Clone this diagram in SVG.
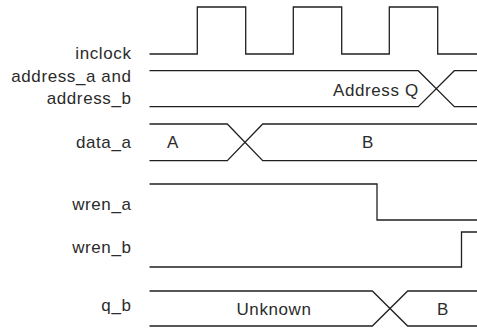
<svg xmlns="http://www.w3.org/2000/svg" width="477" height="328" viewBox="0 0 477 328">
<style>
.bg{fill:#ffffff}
.w{fill:none;stroke:#231f20;stroke-width:1.3;stroke-linejoin:miter}
.t{font-family:"Liberation Sans",Arial,sans-serif;font-size:17px;fill:#2b2b2b;letter-spacing:0.6px}
.l{text-anchor:end}
.m{text-anchor:middle}
</style>
<rect class="bg" x="0" y="0" width="477" height="328"/>
<g id="inclock">
<text class="t l" x="131.5" y="59">inclock</text>
<path class="w" d="M149.5,54 H197.3 V7 H245.7 V54 H293.3 V7 H341.7 V54 H389.3 V7 H437.7 V54 H477"/>
</g>
<g id="address">
<text class="t l" x="131.5" y="82">address_a and</text>
<text class="t l" x="131.5" y="103.5">address_b</text>
<path class="w" d="M149.5,70.7 H418.3 L454.3,106.7 H477 M149.5,106.7 H418.3 L454.3,70.7 H477"/>
<text class="t" x="333" y="95.5">Address Q</text>
</g>
<g id="data_a">
<text class="t l" x="131.5" y="147.5">data_a</text>
<path class="w" d="M149.5,124 H227.3 L262.7,160.7 H477 M149.5,160.7 H227.3 L262.7,124 H477"/>
<text class="t m" x="173" y="148">A</text>
<text class="t m" x="368" y="148">B</text>
</g>
<g id="wren_a">
<text class="t l" x="131.5" y="210">wren_a</text>
<path class="w" d="M149.5,184 H377 V220 H477"/>
</g>
<g id="wren_b">
<text class="t l" x="131.5" y="253">wren_b</text>
<path class="w" d="M149.5,267 H461.5 V232 H477"/>
</g>
<g id="q_b">
<text class="t l" x="131.5" y="311">q_b</text>
<path class="w" d="M149.5,291 H372.3 L407.7,326 H477 M149.5,326 H372.3 L407.7,291 H477"/>
<text class="t m" x="274" y="315">Unknown</text>
<text class="t m" x="443" y="315">B</text>
</g>
<g id="connectors"></g>
</svg>
